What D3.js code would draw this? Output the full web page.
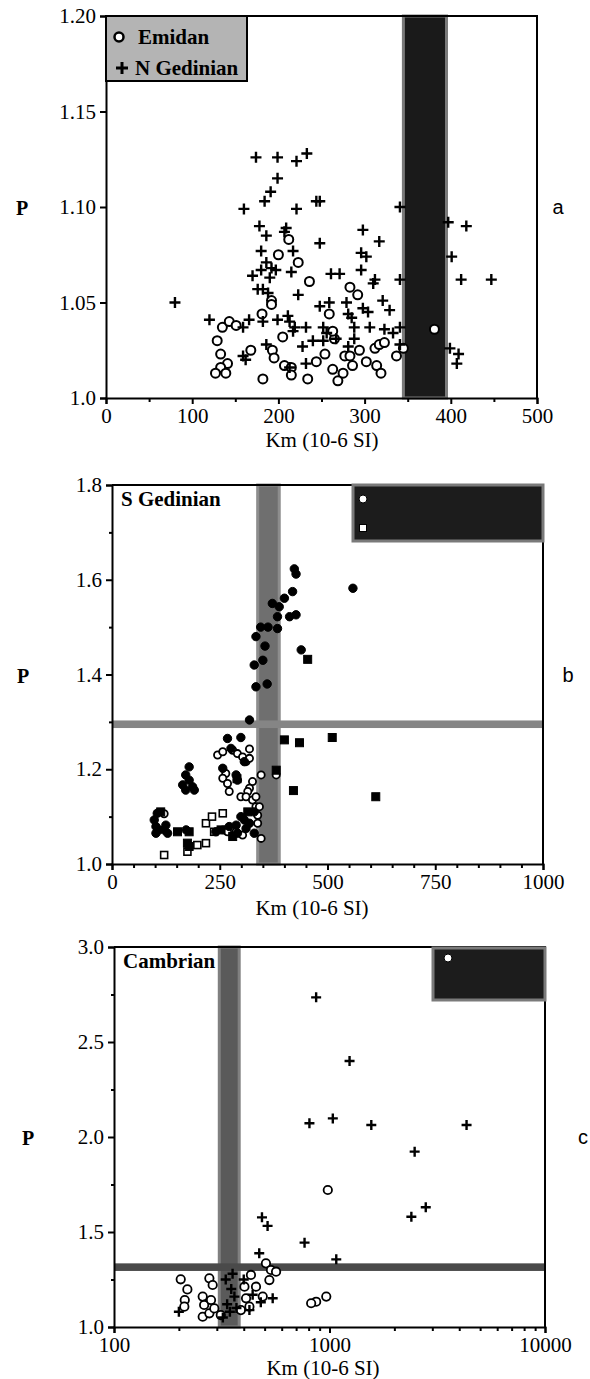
<!DOCTYPE html>
<html>
<head>
<meta charset="utf-8">
<script src="https://cdn.jsdelivr.net/npm/d3@7/dist/d3.min.js"></script>
<style>
  body { margin: 0; background: #fff; }
  svg { display: block; }
</style>
</head>
<body>
<div id="chart"></div>
<script>
// ---- panel a : Emidan / N Gedinian ----
const aXTicks = [0, 100, 200, 300, 400, 500];
const aXMinor = [50, 150, 250, 350, 450];
const aYTicks = [1.0, 1.05, 1.10, 1.15, 1.20];
const aYTickLabels = ["1.0", "1.05", "1.10", "1.15", "1.20"];
const aBand = [345, 395];
const aGedinian = [
  [80, 1.050], [174, 1.126], [199, 1.126], [221, 1.124], [233, 1.128], [199, 1.115], [191, 1.108],
  [184, 1.103], [160, 1.099], [221, 1.099], [244, 1.103], [248, 1.103], [341, 1.100], [397, 1.092],
  [418, 1.090], [178, 1.090], [209, 1.089], [298, 1.088], [186, 1.085], [207, 1.087], [217, 1.077],
  [180, 1.077], [248, 1.081], [317, 1.082], [401, 1.074], [296, 1.076], [302, 1.074], [186, 1.071],
  [192, 1.068], [197, 1.067], [180, 1.067], [215, 1.066], [170, 1.064], [190, 1.063], [261, 1.065],
  [271, 1.065], [296, 1.067], [312, 1.062], [310, 1.060], [341, 1.062], [412, 1.062], [447, 1.062],
  [176, 1.057], [182, 1.057], [188, 1.055], [223, 1.054], [248, 1.048], [259, 1.050], [279, 1.050],
  [321, 1.051], [329, 1.046], [298, 1.047], [304, 1.045], [281, 1.044], [285, 1.042], [120, 1.041],
  [166, 1.041], [182, 1.040], [199, 1.041], [211, 1.043], [213, 1.040], [219, 1.037], [217, 1.035],
  [159, 1.037], [232, 1.037], [252, 1.037], [256, 1.034], [288, 1.037], [306, 1.037], [323, 1.036],
  [341, 1.037], [333, 1.034], [252, 1.030], [240, 1.030], [267, 1.031], [288, 1.031], [281, 1.027],
  [228, 1.027], [186, 1.028], [341, 1.028], [399, 1.026], [159, 1.022], [162, 1.020], [232, 1.018],
  [213, 1.016], [409, 1.023], [407, 1.018]
];
const aEmidan = [
  [212, 1.083], [200, 1.075], [223, 1.071], [236, 1.061], [283, 1.058], [292, 1.054], [192, 1.051],
  [192, 1.049], [259, 1.044], [181, 1.044], [135, 1.037], [143, 1.040], [151, 1.038], [168, 1.025],
  [129, 1.030], [133, 1.023], [141, 1.018], [133, 1.016], [127, 1.013], [139, 1.013], [182, 1.010],
  [193, 1.025], [195, 1.021], [205, 1.032], [207, 1.017], [215, 1.016], [215, 1.012], [234, 1.010],
  [244, 1.019], [254, 1.023], [265, 1.031], [263, 1.035], [263, 1.015], [275, 1.013], [269, 1.009],
  [277, 1.022], [286, 1.017], [294, 1.025], [302, 1.019], [314, 1.017], [319, 1.013], [312, 1.026],
  [317, 1.028], [323, 1.029], [283, 1.022], [337, 1.022], [345, 1.026], [381, 1.036]
];

// ---- panel b : S Gedinian ----
const bXTicks = [0, 250, 500, 750, 1000];
const bXMinor = [50, 100, 150, 200, 300, 350, 400, 450, 550, 600, 650, 700, 800, 850, 900, 950];
const bYTicks = [1.0, 1.2, 1.4, 1.6, 1.8];
const bYMinor = [1.1, 1.3, 1.5, 1.7];
const bYTickLabels = ["1.0", "1.2", "1.4", "1.6", "1.8"];
const bBand = [338, 388];
const bHBand = [1.287, 1.303];
const bFilledCircles = [
  [423, 1.623], [427, 1.612], [419, 1.575], [400, 1.561], [388, 1.543], [412, 1.522], [427, 1.526],
  [384, 1.522], [384, 1.497], [334, 1.480], [559, 1.582], [439, 1.452], [330, 1.420], [334, 1.374],
  [345, 1.500], [355, 1.460], [372, 1.550], [362, 1.500], [350, 1.430], [360, 1.380],
  [319, 1.304], [268, 1.265], [299, 1.267], [276, 1.244], [307, 1.216], [257, 1.202], [179, 1.205],
  [171, 1.188], [164, 1.167], [171, 1.156], [179, 1.177], [187, 1.163], [191, 1.156], [288, 1.188],
  [291, 1.177], [330, 1.110], [105, 1.107], [98, 1.093], [102, 1.079], [109, 1.072], [121, 1.072],
  [129, 1.065], [102, 1.065], [125, 1.082], [172, 1.072], [241, 1.068], [272, 1.079], [288, 1.082],
  [291, 1.065], [299, 1.100], [307, 1.093], [311, 1.075], [319, 1.086], [330, 1.065]
];
const bFilledSquares = [
  [454, 1.432], [400, 1.262], [435, 1.256], [511, 1.267], [421, 1.155], [612, 1.142], [381, 1.198],
  [113, 1.110], [152, 1.068], [179, 1.068], [175, 1.044], [179, 1.037], [253, 1.072], [280, 1.058],
  [315, 1.110], [290, 1.180]
];
const bOpenCircles = [
  [319, 1.243], [245, 1.230], [257, 1.237], [280, 1.240], [291, 1.233], [303, 1.226], [311, 1.216],
  [319, 1.223], [264, 1.191], [257, 1.181], [268, 1.170], [272, 1.153], [346, 1.188], [381, 1.188],
  [326, 1.174], [319, 1.160], [315, 1.153], [299, 1.142], [311, 1.142], [326, 1.135], [334, 1.142],
  [334, 1.121], [338, 1.103], [121, 1.106], [268, 1.068], [288, 1.068], [303, 1.061], [346, 1.054],
  [338, 1.086], [342, 1.121]
];
const bOpenSquares = [
  [121, 1.019], [175, 1.026], [198, 1.040], [218, 1.044], [218, 1.086], [232, 1.100], [257, 1.107],
  [237, 1.068], [264, 1.072]
];

// ---- panel c : Cambrian ----
const cXTicks = [100, 1000, 10000];
const cXMinor = [200, 300, 400, 500, 600, 700, 800, 900, 2000, 3000, 4000, 5000, 6000, 7000, 8000, 9000];
const cYTicks = [1.0, 1.5, 2.0, 2.5, 3.0];
const cYMinor = [1.25, 1.75, 2.25, 2.75];
const cYTickLabels = ["1.0", "1.5", "2.0", "2.5", "3.0"];
const cBand = [308, 381];
const cHBand = [1.295, 1.335];
const cPluses = [
  [867, 2.735], [1239, 2.40], [807, 2.072], [1036, 2.098], [1563, 2.063], [4325, 2.063], [2484, 1.923],
  [2398, 1.58], [2797, 1.63], [486, 1.577], [516, 1.532], [766, 1.444], [472, 1.388], [1075, 1.356],
  [545, 1.151], [200, 1.08], [425, 1.089], [480, 1.13], [440, 1.17], [400, 1.25],
  [320, 1.05], [335, 1.12], [350, 1.20], [345, 1.08], [362, 1.16], [330, 1.25], [370, 1.10], [355, 1.28]
];
const cCircles = [
  [982, 1.721], [966, 1.16], [867, 1.133], [822, 1.125], [204, 1.251], [219, 1.198], [213, 1.142],
  [212, 1.107], [258, 1.16], [262, 1.116], [258, 1.054], [277, 1.072], [313, 1.063], [277, 1.256],
  [287, 1.221], [282, 1.142], [292, 1.098], [507, 1.335], [535, 1.30], [565, 1.291], [526, 1.247],
  [490, 1.16], [456, 1.212], [432, 1.274], [403, 1.212], [410, 1.151], [425, 1.107], [388, 1.089]
];

const serif = "'Liberation Serif', 'Times New Roman', serif";
const sans = "'Liberation Sans', Arial, sans-serif";

const svg = d3.select("#chart").append("svg")
    .attr("width", 590)
    .attr("height", 1379);

// marker drawers
function plus(g, data, x, y, size, sw) {
    g.append("g").selectAll("path").data(data).join("path")
        .attr("d", d => `M${x(d[0]) - size},${y(d[1])}H${x(d[0]) + size}M${x(d[0])},${y(d[1]) - size}V${y(d[1]) + size}`)
        .attr("stroke", "#000").attr("stroke-width", sw).attr("fill", "none");
}
function circles(g, data, x, y, r, fill, sw) {
    g.append("g").selectAll("circle").data(data).join("circle")
        .attr("cx", d => x(d[0])).attr("cy", d => y(d[1])).attr("r", r)
        .attr("fill", fill).attr("stroke", "#000").attr("stroke-width", sw);
}
function squares(g, data, x, y, s, fill, sw) {
    g.append("g").selectAll("rect").data(data).join("rect")
        .attr("x", d => x(d[0]) - s / 2).attr("y", d => y(d[1]) - s / 2)
        .attr("width", s).attr("height", s)
        .attr("fill", fill).attr("stroke", "#000").attr("stroke-width", sw);
}

function drawPanel(p) {
    const x = p.x.range([p.left, p.right]);
    const y = d3.scaleLinear().domain(p.yDomain).range([p.bottom, p.top]);
    const g = svg.append("g");

    // reference bands
    g.append("rect")
        .attr("x", x(p.band[0])).attr("y", p.top)
        .attr("width", x(p.band[1]) - x(p.band[0])).attr("height", p.bottom - p.top)
        .attr("fill", p.bandFill).attr("stroke", p.bandEdge).attr("stroke-width", 3);
    if (p.hBand) {
        g.append("rect")
            .attr("x", p.left).attr("y", y(p.hBand[1]))
            .attr("width", p.right - p.left).attr("height", y(p.hBand[0]) - y(p.hBand[1]))
            .attr("fill", p.hBandFill);
    }

    p.marks(g, x, y);

    // frame (top + right)
    g.append("path")
        .attr("d", `M${p.left},${p.top}H${p.right}V${p.bottom}`)
        .attr("fill", "none").attr("stroke", "#000").attr("stroke-width", 2);

    // axes
    const xa = g.append("g").attr("transform", `translate(0,${p.bottom})`)
        .call(d3.axisBottom(x).tickValues(p.xTicks).tickFormat(d3.format("d"))
            .tickSizeOuter(0).tickSize(6).tickPadding(4));
    g.append("g").attr("transform", `translate(0,${p.bottom})`)
        .call(d3.axisBottom(x).tickValues(p.xMinor).tickFormat("").tickSizeOuter(0).tickSize(4))
        .call(s => s.select(".domain").remove());
    const ya = g.append("g").attr("transform", `translate(${p.left},0)`)
        .call(d3.axisLeft(y).tickValues(p.yTicks).tickFormat((d, i) => p.yLabels[i])
            .tickSizeOuter(0).tickSize(6).tickPadding(4));
    if (p.yMinor) {
        g.append("g").attr("transform", `translate(${p.left},0)`)
            .call(d3.axisLeft(y).tickValues(p.yMinor).tickFormat("").tickSizeOuter(0).tickSize(3))
            .call(s => s.select(".domain").remove());
    }
    g.selectAll(".domain, .tick line").attr("stroke", "#000").attr("stroke-width", 2);
    [xa, ya].forEach(a => a.attr("font-family", serif).attr("font-size", 21)
        .selectAll("text").attr("fill", "#000"));

    // titles
    g.append("text").attr("x", p.titleX).attr("y", p.titleY)
        .attr("text-anchor", "middle").attr("font-family", serif).attr("font-size", 21)
        .text("Km (10-6 SI)");
    g.append("text").attr("x", p.pX).attr("y", (p.top + p.bottom) / 2 + 8)
        .attr("text-anchor", "middle").attr("font-family", serif).attr("font-size", 20)
        .attr("font-weight", "bold").text("P");
    g.append("text").attr("x", p.letterX).attr("y", (p.top + p.bottom) / 2 + 7)
        .attr("text-anchor", "middle").attr("font-family", sans).attr("font-size", 20)
        .text(p.letter);
    if (p.name) {
        g.append("text").attr("x", p.left + 9).attr("y", p.top + 21)
            .attr("font-family", serif).attr("font-size", 21).attr("font-weight", "bold")
            .text(p.name);
    }
    p.legend(g);
}

// panel a
drawPanel({
    left: 106, right: 537, top: 16, bottom: 398,
    x: d3.scaleLinear().domain([0, 500]), yDomain: [1.0, 1.2],
    xTicks: aXTicks, xMinor: aXMinor, yTicks: aYTicks, yLabels: aYTickLabels,
    band: aBand, bandFill: "#1a1a1a", bandEdge: "#7a7a7a",
    titleX: 322, titleY: 447, pX: 22, letterX: 558, letter: "a",
    marks: (g, x, y) => {
        circles(g, aEmidan, x, y, 4.5, "#fff", 2);
        plus(g, aGedinian, x, y, 5.5, 2.4);
    },
    legend: g => {
        g.append("rect").attr("x", 106).attr("y", 16).attr("width", 141).attr("height", 65)
            .attr("fill", "#b4b4b4").attr("stroke", "#000").attr("stroke-width", 2);
        circles(g, [[0, 0]], () => 119, () => 37, 4.5, "#fff", 2.5);
        plus(g, [[0, 0]], () => 122, () => 68, 6, 3);
        g.append("text").attr("x", 138).attr("y", 44).attr("font-family", serif)
            .attr("font-size", 21).attr("font-weight", "bold").text("Emidan");
        g.append("text").attr("x", 135).attr("y", 75).attr("font-family", serif)
            .attr("font-size", 21).attr("font-weight", "bold").text("N Gedinian");
    }
});

// panel b
drawPanel({
    left: 112, right: 543, top: 485, bottom: 864,
    x: d3.scaleLinear().domain([0, 1000]), yDomain: [1.0, 1.8],
    xTicks: bXTicks, xMinor: bXMinor, yTicks: bYTicks, yMinor: bYMinor, yLabels: bYTickLabels,
    band: bBand, bandFill: "#6f6f6f", bandEdge: "#8d8d8d",
    hBand: bHBand, hBandFill: "#858585",
    titleX: 312, titleY: 915, pX: 23, letterX: 568, letter: "b", name: "S Gedinian",
    marks: (g, x, y) => {
        squares(g, bOpenSquares, x, y, 7, "#fff", 1.6);
        circles(g, bOpenCircles, x, y, 3.6, "#fff", 1.8);
        squares(g, bFilledSquares, x, y, 8, "#000", 1);
        circles(g, bFilledCircles, x, y, 4.2, "#000", 1);
    },
    legend: g => {
        g.append("rect").attr("x", 353).attr("y", 485).attr("width", 190).attr("height", 56)
            .attr("fill", "#1c1c1c").attr("stroke", "#7a7a7a").attr("stroke-width", 3);
        circles(g, [[0, 0]], () => 363, () => 499, 4, "#fff", 1);
        squares(g, [[0, 0]], () => 363, () => 528, 7, "#fff", 1);
    }
});

// panel c
drawPanel({
    left: 114, right: 545, top: 947, bottom: 1327,
    x: d3.scaleLog().domain([100, 10000]), yDomain: [1.0, 3.0],
    xTicks: cXTicks, xMinor: cXMinor, yTicks: cYTicks, yMinor: cYMinor, yLabels: cYTickLabels,
    band: cBand, bandFill: "#5a5a5a", bandEdge: "#808080",
    hBand: cHBand, hBandFill: "#4a4a4a",
    titleX: 323, titleY: 1375, pX: 28, letterX: 583, letter: "c", name: "Cambrian",
    marks: (g, x, y) => {
        circles(g, cCircles, x, y, 4.2, "#fff", 1.8);
        plus(g, cPluses, x, y, 5, 2.4);
    },
    legend: g => {
        g.append("rect").attr("x", 433).attr("y", 948).attr("width", 112).attr("height", 52)
            .attr("fill", "#1c1c1c").attr("stroke", "#7a7a7a").attr("stroke-width", 3);
        circles(g, [[0, 0]], () => 448, () => 958, 4, "#fff", 1);
    }
});
</script>
</body>
</html>
